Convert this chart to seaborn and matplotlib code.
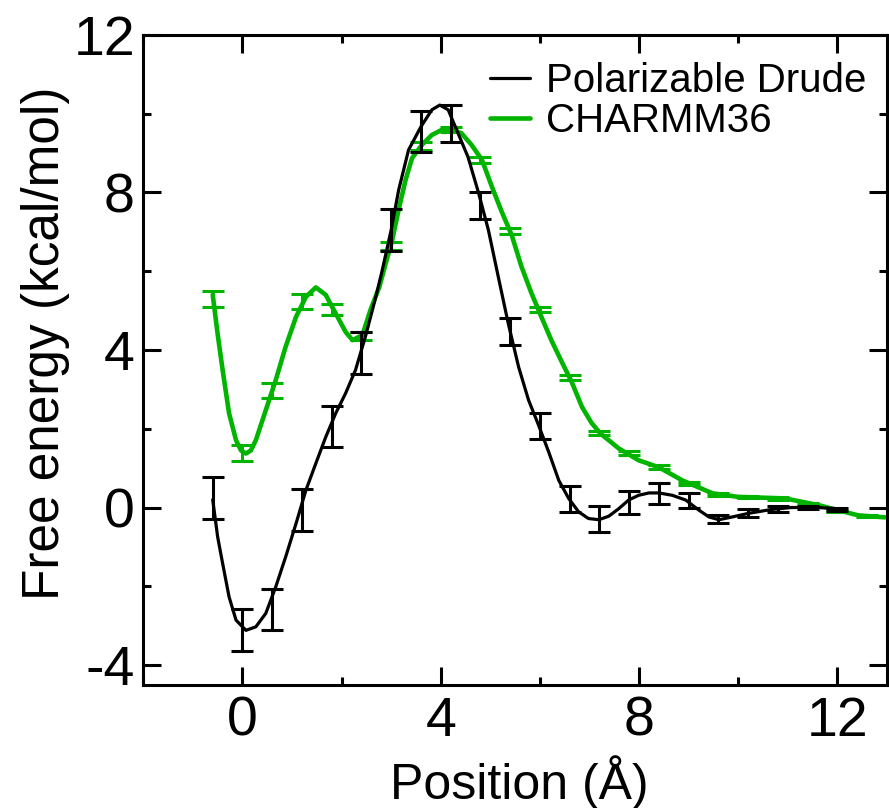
import matplotlib
matplotlib.use("Agg")
import matplotlib.pyplot as plt
from matplotlib.lines import Line2D
from matplotlib.ticker import MultipleLocator
import seaborn as sns
import pandas as pd

# smooth free energy curves
DRUDE_CURVE_X = [-0.60, -0.50, -0.40, -0.27, -0.13, 0.07, 0.27, 0.47, 0.67, 0.87,
                 1.08, 1.28, 1.48, 1.68, 1.88, 2.08, 2.28, 2.48, 2.69, 2.82,
                 3.00, 3.15, 3.35, 3.60, 3.82, 3.98, 4.15, 4.35, 4.55, 4.76,
                 4.96, 5.16, 5.36, 5.57, 5.77, 5.97, 6.18, 6.38, 6.58, 6.78,
                 6.98, 7.19, 7.39, 7.59, 7.79, 7.99, 8.20, 8.40, 8.67, 8.94,
                 9.21, 9.41, 9.61, 9.88, 10.20, 10.67, 11.07, 11.60, 12.00]
DRUDE_CURVE_Y = [0.20, -0.75, -1.42, -2.27, -2.86, -3.12, -3.03, -2.69, -2.02, -1.26,
                 -0.41, 0.44, 1.12, 1.79, 2.39, 2.90, 3.49, 4.34, 5.35, 6.03,
                 7.05, 8.06, 9.08, 9.67, 10.10, 10.22, 10.10, 9.50, 8.90, 8.00,
                 7.05, 5.86, 4.68, 3.57, 2.73, 2.10, 1.40, 0.69, 0.23, -0.11,
                 -0.28, -0.31, -0.22, -0.03, 0.19, 0.31, 0.37, 0.37, 0.31, 0.19,
                 -0.07, -0.24, -0.31, -0.24, -0.15, -0.05, 0.00, 0.00, -0.03]

CHARMM_CURVE_X = [-0.60, -0.50, -0.40, -0.27, -0.13, -0.03, 0.07, 0.17, 0.27, 0.47,
                  0.67, 0.87, 1.08, 1.28, 1.48, 1.68, 1.88, 2.08, 2.22, 2.42,
                  2.58, 2.76, 2.89, 3.02, 3.15, 3.29, 3.42, 3.62, 3.82, 4.02,
                  4.22, 4.42, 4.62, 4.83, 5.03, 5.23, 5.43, 5.63, 5.83, 6.03,
                  6.23, 6.44, 6.64, 6.85, 7.04, 7.22, 7.59, 7.99, 8.40, 8.87,
                  9.48, 10.00, 10.95, 11.62, 12.42, 12.96]
CHARMM_CURVE_Y = [5.40, 4.40, 3.49, 2.39, 1.71, 1.45, 1.37, 1.45, 1.71, 2.47,
                  3.23, 4.08, 4.84, 5.35, 5.59, 5.40, 4.93, 4.46, 4.25, 4.38,
                  5.01, 5.60, 6.20, 6.79, 7.56, 8.32, 8.87, 9.21, 9.46, 9.59,
                  9.61, 9.50, 9.21, 8.83, 8.15, 7.51, 6.92, 6.11, 5.44, 4.84,
                  4.25, 3.70, 3.19, 2.55, 2.15, 1.88, 1.50, 1.20, 1.02, 0.69,
                  0.36, 0.27, 0.23, 0.06, -0.20, -0.25]

# window points with error bars
DRUDE_PTS_X = [-0.6, 0.0, 0.6, 1.2, 1.8, 2.4, 3.0, 3.6, 4.2, 4.8, 5.4, 6.0,
               6.6, 7.2, 7.8, 8.4, 9.0, 9.6, 10.2, 10.8, 11.4, 12.0]
DRUDE_PTS_Y = [0.24, -3.11, -2.59, -0.07, 2.06, 3.92, 7.05, 9.55, 9.75, 7.67, 4.47, 2.07,
               0.22, -0.29, 0.13, 0.35, 0.17, -0.30, -0.13, -0.03, 0.00, -0.04]
DRUDE_ERR = [0.54, 0.54, 0.53, 0.53, 0.52, 0.53, 0.54, 0.51, 0.47, 0.35, 0.35, 0.34,
             0.33, 0.33, 0.30, 0.27, 0.19, 0.10, 0.10, 0.08, 0.05, 0.04]

CHARMM_PTS_X = [-0.6, 0.0, 0.6, 1.2, 1.8, 2.4, 3.0, 3.6, 4.2, 4.8, 5.4, 6.0,
                6.6, 7.2, 7.8, 8.4, 9.0, 9.6, 10.2, 10.8, 11.4, 12.0, 12.6]
CHARMM_PTS_Y = [5.30, 1.38, 2.97, 5.23, 5.03, 4.36, 6.65, 9.17, 9.60, 8.83, 7.03, 5.03,
                3.30, 1.90, 1.39, 1.02, 0.61, 0.34, 0.27, 0.23, 0.08, -0.09, -0.22]
CHARMM_ERR = [0.20, 0.20, 0.20, 0.20, 0.13, 0.10, 0.10, 0.10, 0.06, 0.08, 0.08, 0.07,
              0.07, 0.05, 0.05, 0.05, 0.04, 0.04, 0.03, 0.03, 0.03, 0.03, 0.03]

LABELS = ["Polarizable Drude", "CHARMM36"]
BLACK = "black"
GREEN = "#00b400"

sns.set_style("ticks")
plt.rcParams["font.family"] = ["Liberation Sans", "DejaVu Sans"]
plt.rcParams["text.color"] = "black"
plt.rcParams["axes.labelcolor"] = "black"
plt.rcParams["xtick.color"] = "black"
plt.rcParams["ytick.color"] = "black"

fig = plt.figure(figsize=(8.89, 8.08), dpi=100)
ax = fig.add_axes([0.1612, 0.1526, 0.8365, 0.8041])

charmm = pd.DataFrame({"x": CHARMM_CURVE_X, "y": CHARMM_CURVE_Y})
drude = pd.DataFrame({"x": DRUDE_CURVE_X, "y": DRUDE_CURVE_Y})

sns.lineplot(data=charmm, x="x", y="y", color=GREEN, lw=3.3, ax=ax, estimator=None)
ax.errorbar(CHARMM_PTS_X, CHARMM_PTS_Y, yerr=CHARMM_ERR, fmt="none", ecolor=GREEN,
            elinewidth=2.2, capsize=8, capthick=2.2)
sns.lineplot(data=drude, x="x", y="y", color=BLACK, lw=2.3, ax=ax, estimator=None)
ax.errorbar(DRUDE_PTS_X, DRUDE_PTS_Y, yerr=DRUDE_ERR, fmt="none", ecolor=BLACK,
            elinewidth=2.2, capsize=8, capthick=2.2)

ax.set_xlim(-2, 13)
ax.set_ylim(-4.5, 12)
ax.xaxis.set_major_locator(MultipleLocator(4))
ax.xaxis.set_minor_locator(MultipleLocator(2))
ax.yaxis.set_minor_locator(MultipleLocator(2))
ax.set_yticks([-4, 0, 4, 8, 12])
ax.set_yticklabels(["-4", "0", "4", "8", "12"])

ax.tick_params(which="both", direction="in", top=True, right=True, width=2.2, color="black")
ax.tick_params(which="major", length=13)
ax.tick_params(which="minor", length=6)
ax.tick_params(axis="x", labelsize=40, pad=8, labelcolor="black")
ax.tick_params(axis="y", labelsize=40, pad=6, labelcolor="black")
for sp in ax.spines.values():
    sp.set_linewidth(2.2)
    sp.set_color("black")

ax.set_xlabel("Position (Å)", fontsize=36, color="black")
ax.set_ylabel("Free energy (kcal/mol)", fontsize=37, color="black")
ax.xaxis.set_label_coords(0.505, -0.108)
ax.yaxis.set_label_coords(-0.099, 0.526)

handles = [Line2D([], [], color=BLACK, lw=2.3), Line2D([], [], color=GREEN, lw=3.3)]
leg = ax.legend(handles, LABELS, loc="upper right", bbox_to_anchor=(1, 0.99), frameon=False,
                fontsize=29, handlelength=1.0, handletextpad=0.4, labelspacing=0.05,
                borderaxespad=0.5, borderpad=0)
for t in leg.get_texts():
    t.set_color("black")

fig.savefig("out.png", dpi=100)
